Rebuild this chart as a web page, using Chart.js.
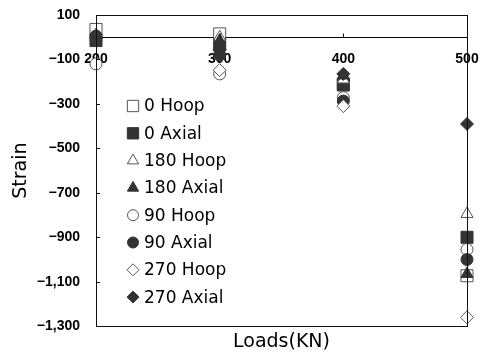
<!DOCTYPE html>
<html>
<head>
<meta charset="utf-8">
<script src="https://cdn.jsdelivr.net/npm/chart.js@4.4.1/dist/chart.umd.min.js"></script>
<style>
  body { margin: 0; background: #fff; }
  canvas { display: block; }
</style>
</head>
<body>
<canvas id="strainChart" width="481" height="359"></canvas>
<script>
// loads (KN) and strain readings for each gauge
var loads = [200, 300, 400, 500];
var hoop0 = [35, 15, -210, -1073];
var axial0 = [-15, -35, -215, -900];
var hoop180 = [10, 0, -190, -795];
var axial180 = [0, -15, -172, -1065];
var hoop90 = [-120, -165, -272, -955];
var axial90 = [5, -80, -287, -1000];
var hoop270 = [-5, -148, -310, -1260];
var axial270 = [-5, -55, -165, -390];

var xTicks = [200, 300, 400, 500];
var yTicks = [100, -100, -300, -500, -700, -900, -1100, -1300];

var dark = "#333333";
var edge = "#555555";

function pts(vals) {
    return loads.map(function (l, i) { return { x: l, y: vals[i] }; });
}

var series = [
    { label: "0 Hoop", data: hoop0, style: "rect", r: 8.5, open: true },
    { label: "0 Axial", data: axial0, style: "rect", r: 8.5, open: false },
    { label: "180 Hoop", data: hoop180, style: "triangle", r: 7, open: true },
    { label: "180 Axial", data: axial180, style: "triangle", r: 7, open: false },
    { label: "90 Hoop", data: hoop90, style: "circle", r: 6, open: true },
    { label: "90 Axial", data: axial90, style: "circle", r: 6, open: false },
    { label: "270 Hoop", data: hoop270, style: "rectRot", r: 6.5, open: true },
    { label: "270 Axial", data: axial270, style: "rectRot", r: 6.5, open: false }
];

var datasets = series.map(function (s, i) {
    return {
        label: s.label,
        data: pts(s.data),
        pointStyle: s.style,
        pointRadius: s.r,
        pointHoverRadius: s.r,
        backgroundColor: s.open ? "#ffffff" : dark,
        borderColor: s.open ? edge : dark,
        borderWidth: 1,
        showLine: false,
        clip: false,
        order: series.length - i
    };
});

function fmt(v) {
    var t = Math.abs(v).toLocaleString("en-US");
    return v < 0 ? "\u2212" + t : t;
}

// frame round the plot, inner tick marks
var framePlugin = {
    id: "frame",
    afterDraw: function (chart) {
        var ctx = chart.ctx, a = chart.chartArea;
        var xs = chart.scales.x, ys = chart.scales.y;
        ctx.save();
        ctx.strokeStyle = "#111";
        ctx.lineWidth = 1;
        ctx.strokeRect(Math.round(a.left) + 0.5, Math.round(a.top) + 0.5,
            Math.round(a.right - a.left), Math.round(a.bottom - a.top));
        ctx.beginPath();
        yTicks.forEach(function (v) {
            var y = Math.round(ys.getPixelForValue(v)) + 0.5;
            ctx.moveTo(a.left, y);
            ctx.lineTo(a.left + 4, y);
        });
        var y0 = Math.round(ys.getPixelForValue(0)) + 0.5;
        xTicks.forEach(function (v) {
            var x = Math.round(xs.getPixelForValue(v)) + 0.5;
            ctx.moveTo(x, y0);
            ctx.lineTo(x, y0 - 4);
        });
        ctx.stroke();
        ctx.restore();
    }
};

// legend drawn inside the plot area
var legendPlugin = {
    id: "innerLegend",
    afterDatasetsDraw: function (chart) {
        var ctx = chart.ctx, a = chart.chartArea;
        var x0 = a.left + 37, y0 = a.top + 91, step = 27.3;
        ctx.save();
        series.forEach(function (s, i) {
            var y = y0 + i * step;
            ctx.fillStyle = s.open ? "#ffffff" : dark;
            ctx.strokeStyle = s.open ? edge : dark;
            ctx.lineWidth = 1;
            Chart.helpers.drawPoint(ctx, { pointStyle: s.style, radius: s.r - 0.5, borderWidth: 1, rotation: 0 }, x0, y);
            ctx.fillStyle = "#000";
            ctx.font = "17px 'DejaVu Sans'";
            ctx.textBaseline = "middle";
            ctx.textAlign = "left";
            ctx.fillText(s.label, x0 + 11, y + 1);
        });
        ctx.restore();
    }
};

var tickFont = { family: "'Liberation Sans', Arial, sans-serif", size: 14, weight: "bold" };

new Chart(document.getElementById("strainChart").getContext("2d"), {
    type: "scatter",
    data: { datasets: datasets },
    options: {
        responsive: false,
        animation: false,
        events: [],
        layout: { padding: { left: 10, right: 14, top: 15, bottom: 0 } },
        plugins: {
            legend: { display: false },
            tooltip: { enabled: false },
            title: {
                display: true,
                text: "Loads(KN)",
                position: "bottom",
                fullSize: false,
                color: "#000",
                font: { family: "'DejaVu Sans'", size: 19, weight: "normal" },
                padding: { top: 4, bottom: 6 }
            }
        },
        scales: {
            x: {
                type: "linear",
                position: { y: 0 },
                min: 200,
                max: 500,
                afterBuildTicks: function (s) { s.ticks = xTicks.map(function (v) { return { value: v }; }); },
                afterFit: function (s) { s.paddingLeft = 0; s.paddingRight = 0; s.paddingTop = 0; s.paddingBottom = 0; },
                grid: { display: false, drawTicks: false },
                border: { display: true, color: "#000", width: 1 },
                ticks: { padding: 14, color: "#000", font: tickFont, maxRotation: 0, autoSkip: false }
            },
            y: {
                type: "linear",
                min: -1300,
                max: 100,
                afterBuildTicks: function (s) { s.ticks = yTicks.map(function (v) { return { value: v }; }); },
                afterFit: function (s) { s.width = 86; s.paddingTop = 0; s.paddingBottom = 0; },
                grid: { display: false, drawTicks: false },
                border: { display: true, color: "#000", width: 1 },
                ticks: { padding: 16, color: "#000", font: tickFont, callback: function (v) { return fmt(v); } },
                title: {
                    display: true,
                    text: "Strain",
                    color: "#000",
                    font: { family: "'DejaVu Sans'", size: 19, weight: "normal" },
                    padding: 0
                }
            }
        }
    },
    plugins: [framePlugin, legendPlugin]
});
</script>
</body>
</html>
